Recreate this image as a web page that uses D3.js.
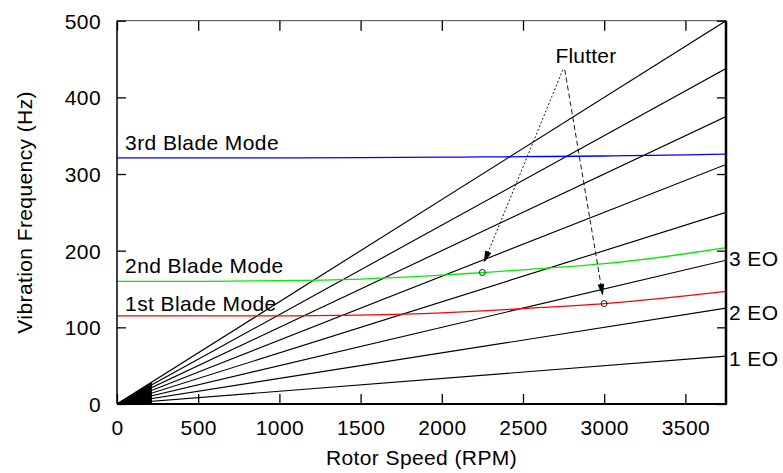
<!DOCTYPE html>
<html>
<head>
<meta charset="utf-8">
<script src="https://cdn.jsdelivr.net/npm/d3@7"></script>
<style>
  html, body { margin: 0; padding: 0; background: #fff; }
  svg text { font-family: "Liberation Sans", Arial, Helvetica, sans-serif; fill: #000; letter-spacing: 0.4px; }
</style>
</head>
<body>
<svg id="chart" width="783" height="473"></svg>
<script>
// ---- data ----
const speedTicks = [0, 500, 1000, 1500, 2000, 2500, 3000, 3500];
const freqTicks = [0, 100, 200, 300, 400, 500];
const engineOrders = [1, 2, 3, 4, 5, 6, 7, 8];
const eoLabels = ["1 EO", "2 EO", "3 EO"];
const eoLabelFreqs = [60, 120, 190];

const modeSpeeds = [0, 500, 1000, 1500, 2000, 2250, 2500, 3000, 3500, 3750];
const mode1Freqs = [115, 115, 115, 116, 119, 121.5, 124.5, 131, 141, 147];
const mode2Freqs = [160, 160, 161, 163, 168, 171.5, 175, 183, 196, 204];
const mode3Freqs = [321, 321, 321, 321.5, 322, 322.3, 322.6, 323.5, 325, 326];
const modeNames = ["1st Blade Mode", "2nd Blade Mode", "3rd Blade Mode"];
const modeLabelSpeeds = [50, 50, 50];
const modeLabelFreqs = [130, 180, 340];
const modeColors = ["#ff0000", "#00ee00", "#0000ff"];

const flutterLabel = "Flutter";
const flutterLabelSpeed = 2700;
const flutterLabelFreq = 455;
const flutterApexSpeed = 2745;
const flutterApexFreq = 436;
const flutterPointSpeeds = [2250, 3000];
const flutterPointFreqs = [171.5, 131];
const flutterTipSpeeds = [2262, 2990];
const flutterTipFreqs = [186, 143];

const speedMax = 3750;
const freqMax = 500;
const fanEndSpeed = 215;

// ---- layout ----
const L = 117, R = 726, T = 20.7, B = 404;
const fs = 21;
const svg = d3.select("#chart");
const x = d3.scaleLinear().domain([0, speedMax]).range([L, R]);
const y = d3.scaleLinear().domain([0, freqMax]).range([B, T]);

const eoFreq = (eo, rpm) => eo * rpm / 60;

const defs = svg.append("defs");
defs.append("clipPath").attr("id", "clip")
  .append("rect").attr("x", L).attr("y", T).attr("width", R - L).attr("height", B - T);
defs.append("marker").attr("id", "head")
  .attr("viewBox", "0 0 12 12").attr("refX", 11).attr("refY", 6)
  .attr("markerWidth", 12).attr("markerHeight", 12).attr("markerUnits", "userSpaceOnUse")
  .attr("orient", "auto")
  .append("path").attr("d", "M1,3.2 L11,6 L1,8.8 Z")
  .attr("fill", "#000").attr("stroke", "#000").attr("stroke-width", 0.8);

const plot = svg.append("g").attr("clip-path", "url(#clip)");

// dense fan near the origin
plot.append("path")
  .datum([[0, 0], [fanEndSpeed, eoFreq(8, fanEndSpeed)], [fanEndSpeed, 0]])
  .attr("d", d3.line().x(d => x(d[0])).y(d => y(d[1])))
  .attr("fill", "#000");

// engine order lines
plot.selectAll("line.eo").data(engineOrders).join("line")
  .attr("class", "eo")
  .attr("x1", x(0)).attr("y1", y(0))
  .attr("x2", x(speedMax)).attr("y2", d => y(eoFreq(d, speedMax)))
  .attr("stroke", "#000").attr("stroke-width", 1.15);

// blade modes
const modeLine = d3.line().x((d, i) => x(modeSpeeds[i])).y(d => y(d)).curve(d3.curveMonotoneX);
[mode1Freqs, mode2Freqs, mode3Freqs].forEach((m, i) => {
  plot.append("path").datum(m).attr("d", modeLine)
    .attr("fill", "none").attr("stroke", modeColors[i]).attr("stroke-width", 1.3);
});

// mode labels
modeNames.forEach((n, i) => {
  svg.append("text").attr("x", x(modeLabelSpeeds[i])).attr("y", y(modeLabelFreqs[i]) + 7)
    .attr("font-size", fs).text(n);
});

// flutter annotation
svg.append("text").attr("x", x(flutterLabelSpeed)).attr("y", y(flutterLabelFreq) + 7.5)
  .attr("font-size", fs).style("letter-spacing", "0.2px").text(flutterLabel);
const dashes = ["2,2", "5,3"];
flutterTipSpeeds.forEach((s, i) => {
  svg.append("line")
    .attr("x1", x(flutterApexSpeed) + (i ? 2 : 0)).attr("y1", y(flutterApexFreq))
    .attr("x2", x(s)).attr("y2", y(flutterTipFreqs[i]))
    .attr("stroke", "#000").attr("stroke-width", 0.9)
    .attr("stroke-dasharray", dashes[i])
    .attr("marker-end", "url(#head)");
});
svg.selectAll("circle.fl").data(flutterPointSpeeds).join("circle")
  .attr("class", "fl")
  .attr("cx", d => x(d)).attr("cy", (d, i) => y(flutterPointFreqs[i]))
  .attr("r", 3).attr("fill", "none").attr("stroke", "#000").attr("stroke-width", 0.9);

// frame
svg.append("line").attr("x1", L).attr("x2", R).attr("y1", T).attr("y2", T).attr("stroke", "#444").attr("stroke-width", 1);
svg.append("line").attr("x1", L).attr("x2", L).attr("y1", T).attr("y2", B).attr("stroke", "#000").attr("stroke-width", 1.5);
svg.append("line").attr("x1", L).attr("x2", R + 1).attr("y1", B).attr("y2", B).attr("stroke", "#000").attr("stroke-width", 2.2);
svg.append("line").attr("x1", R).attr("x2", R).attr("y1", T).attr("y2", B).attr("stroke", "#000").attr("stroke-width", 2.5);

// axes via d3
const xAxis = svg.append("g").attr("transform", `translate(0,${B})`)
  .call(d3.axisBottom(x).tickValues(speedTicks).tickSize(-10).tickPadding(16).tickFormat(d3.format("d")));
const xTop = svg.append("g").attr("transform", `translate(0,${T})`)
  .call(d3.axisTop(x).tickValues(speedTicks).tickSize(-10).tickFormat(""));
const yAxis = svg.append("g").attr("transform", `translate(${L},0)`)
  .call(d3.axisLeft(y).tickValues(freqTicks).tickSize(-9).tickPadding(16).tickFormat(d3.format("d")));
const yRight = svg.append("g").attr("transform", `translate(${R},0)`)
  .call(d3.axisRight(y).tickValues(freqTicks).tickSize(-9).tickFormat(""));
[xAxis, xTop, yAxis, yRight].forEach(g => {
  g.select(".domain").remove();
  g.selectAll(".tick line").attr("stroke", "#000").attr("stroke-width", 1.3);
  g.selectAll(".tick text").attr("font-size", fs).attr("font-family", "Liberation Sans, Arial, sans-serif").attr("fill", "#000");
});
yAxis.selectAll(".tick text").attr("dy", "0.36em");

// EO labels
eoLabels.forEach((t, i) => {
  svg.append("text").attr("x", R + 3).attr("y", y(eoLabelFreqs[i]) + 7.5)
    .attr("font-size", fs).text(t);
});

// axis titles
svg.append("text").attr("x", (L + R) / 2).attr("y", 465).attr("text-anchor", "middle")
  .attr("font-size", fs).text("Rotor Speed (RPM)");
svg.append("text").attr("transform", `translate(32,${(T + B) / 2}) rotate(-90)`)
  .attr("text-anchor", "middle").attr("font-size", fs).text("Vibration Frequency (Hz)");
</script>
</body>
</html>
